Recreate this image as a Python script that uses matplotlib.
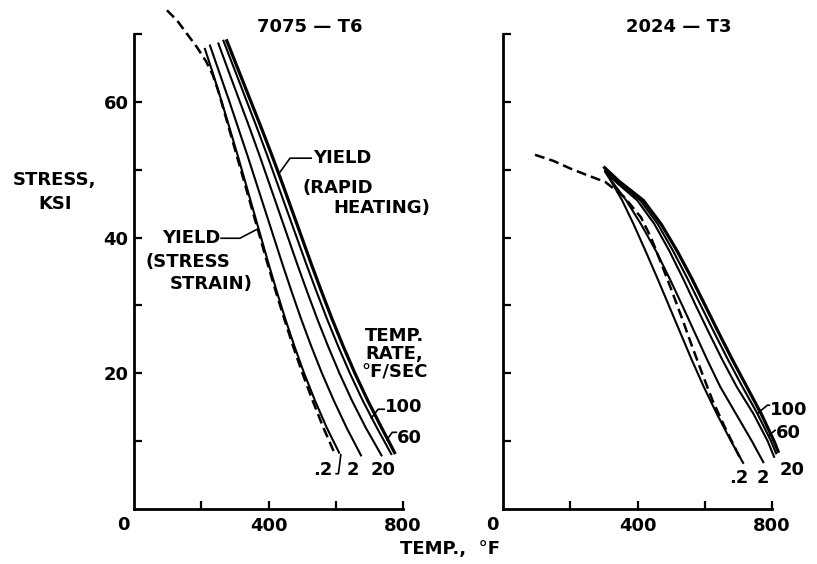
import numpy as np
import matplotlib.pyplot as plt

plt.rcParams['font.family'] = 'DejaVu Sans'
plt.rcParams['font.weight'] = 'bold'

# 7075-T6, yield curves for heating rates (deg F / sec): temperature (F) vs stress (ksi)
t6_y_02 = [67.8, 64, 60, 56, 52, 48, 44, 40, 36, 32, 28, 24, 20, 16, 12, 8.3]
t6_x_02 = [211, 236, 261, 285, 309, 332, 355, 378, 401, 425, 450, 477, 506, 538, 573, 610]
t6_y_2 = [68.3, 64, 60, 56, 52, 48, 44, 40, 36, 32, 28, 24, 20, 16, 12, 7.9]
t6_x_2 = [226, 256, 284, 311, 338, 364, 390, 416, 442, 469, 497, 527, 559, 594, 632, 675]
t6_y_20 = [68.6, 64, 60, 56, 52, 48, 44, 40, 36, 32, 28, 24, 20, 16, 12, 7.9]
t6_x_20 = [251, 285, 315, 345, 374, 402, 430, 458, 486, 515, 545, 577, 611, 648, 689, 736]
t6_y_60 = [69.0, 64, 60, 56, 52, 48, 44, 40, 36, 32, 28, 24, 20, 16, 12, 8.1]
t6_x_60 = [266, 305, 336, 367, 397, 426, 455, 484, 513, 543, 574, 607, 642, 680, 722, 765]
t6_y_100 = [69.0, 64, 60, 56, 52, 48, 44, 40, 36, 32, 28, 24, 20, 16, 12, 8.3]
t6_x_100 = [276, 316, 348, 380, 411, 441, 470, 499, 528, 558, 589, 622, 657, 695, 736, 775]
# stress-strain yield (dashed)
t6_ss_y = [73.5, 72, 70, 68, 66, 64, 62, 60, 56, 52, 48, 44, 40, 36, 32, 28, 24, 20, 16, 12, 8.5]
t6_ss_x = [98, 128, 158, 188, 214, 234, 248, 260, 283, 306, 329, 352, 375, 398, 422, 447, 473, 501, 531, 563, 594]

# 2024-T3
t3_y_02 = [49.7, 48.0, 45.5, 42, 38, 34, 30, 26, 22, 18, 14, 10, 6.8]
t3_x_02 = [304, 325, 354, 388, 424, 459, 493, 527, 561, 597, 636, 678, 714]
t3_y_2 = [49.7, 48.0, 45.5, 42, 38, 34, 30, 26, 22, 18, 14, 10, 6.9]
t3_x_2 = [304, 328, 366, 410, 455, 495, 533, 570, 607, 646, 693, 740, 774]
t3_y_20 = [49.7, 48.0, 45.5, 42, 38, 34, 30, 26, 22, 18, 14, 10, 7.7]
t3_x_20 = [304, 340, 399, 450, 495, 535, 573, 612, 652, 695, 745, 787, 806]
t3_y_60 = [49.9, 48.1, 45.5, 42, 38, 34, 30, 26, 22, 18, 14, 10, 8.2]
t3_x_60 = [304, 343, 408, 460, 506, 548, 588, 628, 669, 712, 757, 797, 812]
t3_y_100 = [50.3, 48.3, 45.5, 42, 38, 34, 30, 26, 22, 18, 14, 10, 8.5]
t3_x_100 = [302, 345, 417, 470, 518, 561, 601, 641, 682, 725, 768, 806, 818]
t3_ss_y = [52.2, 51.3, 50.2, 49.2, 48.2, 46.0, 43, 40, 36, 32, 28, 24, 20, 16, 12, 8, 7.0]
t3_ss_x = [95, 150, 199, 250, 304, 360, 410, 440, 472, 503, 533, 562, 592, 623, 660, 700, 710]

yticks = [10, 20, 30, 40, 50, 60, 70]
ylabels = ['', '20', '', '40', '', '60', '']
xticks = [200, 400, 600, 800]
xlabels = ['', '400', '', '800']

fig = plt.figure(figsize=(8.17, 5.64), dpi=100)
ax1 = fig.add_axes([0.1640, 0.0975, 0.3293, 0.8422])
ax2 = fig.add_axes([0.6157, 0.0975, 0.3293, 0.8422])

fs = 13
for ax in (ax1, ax2):
	ax.set_xlim(0, 800)
	ax.set_ylim(0, 70)
	ax.spines['top'].set_visible(False)
	ax.spines['right'].set_visible(False)
	ax.spines['left'].set_linewidth(2)
	ax.spines['bottom'].set_linewidth(2)
	ax.set_xticks(xticks)
	ax.set_xticklabels(xlabels, fontsize=fs, fontweight='bold')
	ax.set_yticks(yticks)
	ax.tick_params(direction='in', length=6, width=1.6, pad=6)
	ax.text(-33, -2.4, '0', ha='center', va='center', fontsize=fs, fontweight='bold')

ax1.set_yticklabels(ylabels, fontsize=fs, fontweight='bold')
ax1.tick_params(axis='y', pad=4)
ax2.set_yticklabels([''] * len(yticks))

thin = 1.5
thick = 2.3
ax1.plot(t6_x_02, t6_y_02, 'k-', lw=thin, clip_on=False)
ax1.plot(t6_x_2, t6_y_2, 'k-', lw=thin, clip_on=False)
ax1.plot(t6_x_20, t6_y_20, 'k-', lw=thin, clip_on=False)
ax1.plot(t6_x_60, t6_y_60, 'k-', lw=thin, clip_on=False)
ax1.plot(t6_x_100, t6_y_100, 'k-', lw=thick, clip_on=False)
ax1.plot(t6_ss_x, t6_ss_y, 'k', lw=1.8, dashes=(4, 2), clip_on=False)

ax2.plot(t3_x_02, t3_y_02, 'k-', lw=thin, clip_on=False)
ax2.plot(t3_x_2, t3_y_2, 'k-', lw=thin, clip_on=False)
ax2.plot(t3_x_20, t3_y_20, 'k-', lw=thin, clip_on=False)
ax2.plot(t3_x_60, t3_y_60, 'k-', lw=thin, clip_on=False)
ax2.plot(t3_x_100, t3_y_100, 'k-', lw=thick, clip_on=False)
ax2.plot(t3_ss_x, t3_ss_y, 'k', lw=1.8, dashes=(4, 2), clip_on=False)

# annotations, left panel
ax1.plot([435, 464, 527], [49.7, 51.7, 51.7], 'k-', lw=1.2, clip_on=False)
ax1.text(533, 51.7, 'YIELD', ha='left', va='center', fontsize=fs)
ax1.text(500, 47.3, '(RAPID', ha='left', va='center', fontsize=fs)
ax1.text(592, 44.4, 'HEATING)', ha='left', va='center', fontsize=fs)
ax1.plot([259, 315, 369], [39.9, 39.9, 41.3], 'k-', lw=1.2)
ax1.text(256, 39.9, 'YIELD', ha='right', va='center', fontsize=fs)
ax1.text(33, 36.4, '(STRESS', ha='left', va='center', fontsize=fs)
ax1.text(107, 33.2, 'STRAIN)', ha='left', va='center', fontsize=fs)
ax1.text(774, 22.8, 'TEMP.\nRATE,\n°F/SEC', ha='center', va='center',
	fontsize=fs, linespacing=1.05, clip_on=False)
ax1.plot([706, 726, 744], [13.4, 14.7, 14.7], 'k-', lw=1.2, clip_on=False)
ax1.text(747, 15.0, '100', ha='left', va='center', fontsize=fs)
ax1.plot([752, 768, 780], [10.2, 11.3, 11.3], 'k-', lw=1.2, clip_on=False)
ax1.text(783, 10.5, '60', ha='left', va='center', fontsize=fs)
ax1.plot([601, 608, 615], [5.2, 5.2, 8.0], 'k-', lw=1.2)
ax1.text(560, 5.7, '.2', ha='center', va='center', fontsize=fs)
ax1.text(652, 5.7, '2', ha='center', va='center', fontsize=fs)
ax1.text(741, 5.7, '20', ha='center', va='center', fontsize=fs)

# annotations, right panel
ax2.plot([757, 786, 792], [14.1, 15.3, 15.3], 'k-', lw=1.2, clip_on=False)
ax2.text(795, 14.6, '100', ha='left', va='center', fontsize=fs, clip_on=False)
ax2.plot([792, 809], [10.9, 11.6], 'k-', lw=1.2, clip_on=False)
ax2.text(812, 11.2, '60', ha='left', va='center', fontsize=fs, clip_on=False)
ax2.text(702, 4.6, '.2', ha='center', va='center', fontsize=fs)
ax2.text(774, 4.6, '2', ha='center', va='center', fontsize=fs)
ax2.text(860, 5.7, '20', ha='center', va='center', fontsize=fs, clip_on=False)

fig.text(0.379, 0.952, '7075 — T6', ha='center', va='center', fontsize=fs)
fig.text(0.831, 0.952, '2024 — T3', ha='center', va='center', fontsize=fs)
fig.text(0.067, 0.660, 'STRESS,\nKSI', ha='center', va='center', fontsize=fs, linespacing=1.4)
fig.text(0.551, 0.027, 'TEMP.,  °F', ha='center', va='center', fontsize=fs)

plt.savefig('out.png', dpi=100)
